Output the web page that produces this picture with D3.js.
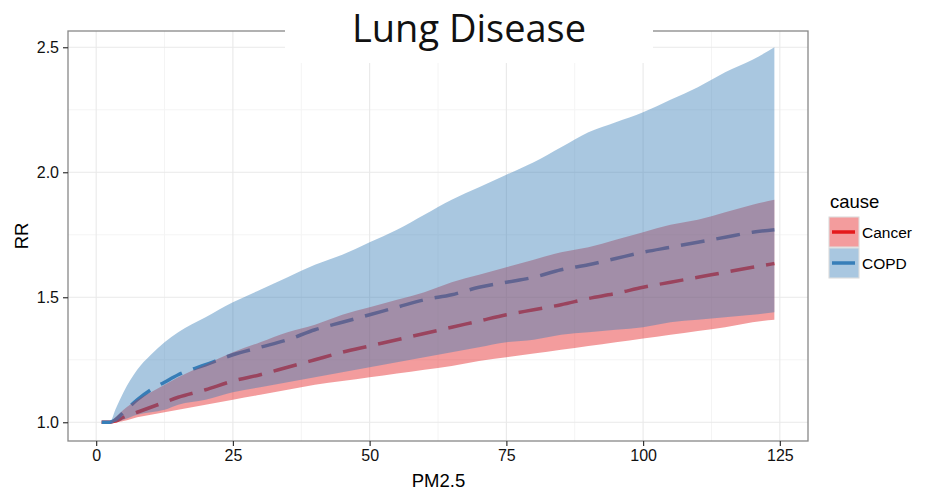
<!DOCTYPE html>
<html>
<head>
<meta charset="utf-8">
<script src="https://cdn.jsdelivr.net/npm/d3@7"></script>
<style>
  body { margin: 0; background: #fff; }
  text { font-family: "Liberation Sans", Arial, sans-serif; }
</style>
</head>
<body>
<script>
// PM2.5 values where the curves were read
var pm = [1, 2.5, 3.5, 5, 7.5, 10, 12.5, 15, 20, 25, 30, 35, 40, 45, 50, 55, 60, 65, 70, 75, 80, 85, 90, 95, 100, 105, 110, 115, 120, 124];

var causes = ['Cancer', 'COPD'];
var causeColors = ['#e41a1c', '#377eb8'];

// Cancer
var cancerRR    = [1.0, 1.0, 1.005, 1.02, 1.04, 1.06, 1.08, 1.10, 1.13, 1.165, 1.19, 1.22, 1.25, 1.28, 1.305, 1.33, 1.355, 1.38, 1.405, 1.43, 1.45, 1.47, 1.495, 1.515, 1.54, 1.56, 1.58, 1.60, 1.62, 1.635];
var cancerLower = [1.0, 1.0, 1.0, 1.005, 1.02, 1.03, 1.04, 1.05, 1.07, 1.09, 1.11, 1.13, 1.15, 1.165, 1.18, 1.195, 1.21, 1.225, 1.245, 1.26, 1.275, 1.29, 1.305, 1.32, 1.335, 1.35, 1.365, 1.38, 1.40, 1.41];
var cancerUpper = [1.0, 1.0, 1.02, 1.05, 1.09, 1.12, 1.15, 1.18, 1.23, 1.28, 1.32, 1.36, 1.39, 1.43, 1.46, 1.49, 1.52, 1.56, 1.59, 1.62, 1.65, 1.68, 1.70, 1.73, 1.76, 1.79, 1.81, 1.84, 1.87, 1.89];

// COPD
var copdRR    = [1.0, 1.0, 1.01, 1.04, 1.09, 1.13, 1.16, 1.19, 1.23, 1.27, 1.30, 1.33, 1.37, 1.40, 1.43, 1.46, 1.49, 1.51, 1.54, 1.56, 1.58, 1.61, 1.63, 1.655, 1.68, 1.70, 1.72, 1.74, 1.76, 1.77];
var copdLower = [1.0, 1.0, 1.0, 1.01, 1.03, 1.04, 1.05, 1.07, 1.09, 1.12, 1.14, 1.16, 1.18, 1.20, 1.22, 1.24, 1.26, 1.28, 1.30, 1.32, 1.33, 1.35, 1.36, 1.37, 1.38, 1.40, 1.41, 1.42, 1.43, 1.44];
var copdUpper = [1.0, 1.0, 1.05, 1.12, 1.21, 1.27, 1.32, 1.36, 1.42, 1.48, 1.53, 1.58, 1.63, 1.67, 1.72, 1.77, 1.83, 1.89, 1.94, 1.99, 2.04, 2.10, 2.16, 2.20, 2.24, 2.29, 2.34, 2.40, 2.45, 2.50];

var xTicks = [0, 25, 50, 75, 100, 125];
var yTicks = [1.0, 1.5, 2.0, 2.5];
var xMinor = [12.5, 37.5, 62.5, 87.5, 112.5];
var yMinor = [1.25, 1.75, 2.25];

var W = 932, H = 498;
var pLeft = 68, pRight = 808, pTop = 31, pBottom = 441;

var svg = d3.select('body').append('svg')
    .attr('width', W)
    .attr('height', H);

var ext = d3.extent(pm);
var pad = (ext[1] - ext[0]) * 0.05;
var x = d3.scaleLinear().domain([ext[0] - pad, ext[1] + pad]).range([pLeft, pRight]);
var y = d3.scaleLinear().domain([0.925, 2.565]).range([pBottom, pTop]);

var series = [
    {name: causes[0], color: causeColors[0], rr: cancerRR, lo: cancerLower, hi: cancerUpper},
    {name: causes[1], color: causeColors[1], rr: copdRR, lo: copdLower, hi: copdUpper}
];

// grid
var grid = svg.append('g');
grid.selectAll('.xminor').data(xMinor).enter().append('line')
    .attr('x1', d => x(d)).attr('x2', d => x(d))
    .attr('y1', pTop).attr('y2', pBottom)
    .attr('stroke', '#f4f4f4').attr('stroke-width', 1);
grid.selectAll('.yminor').data(yMinor).enter().append('line')
    .attr('x1', pLeft).attr('x2', pRight)
    .attr('y1', d => y(d)).attr('y2', d => y(d))
    .attr('stroke', '#f4f4f4').attr('stroke-width', 1);
grid.selectAll('.xmajor').data(xTicks).enter().append('line')
    .attr('x1', d => x(d)).attr('x2', d => x(d))
    .attr('y1', pTop).attr('y2', pBottom)
    .attr('stroke', '#e9e9e9').attr('stroke-width', 1.1);
grid.selectAll('.ymajor').data(yTicks).enter().append('line')
    .attr('x1', pLeft).attr('x2', pRight)
    .attr('y1', d => y(d)).attr('y2', d => y(d))
    .attr('stroke', '#e9e9e9').attr('stroke-width', 1.1);

var line = d3.line()
    .curve(d3.curveMonotoneX)
    .x(d => x(d[0]))
    .y(d => y(d[1]));

var area = d3.area()
    .curve(d3.curveMonotoneX)
    .x(d => x(d[0]))
    .y0(d => y(d[1]))
    .y1(d => y(d[2]));

// lines sit under the ribbons
series.forEach(function(s) {
    svg.append('path')
        .datum(pm.map((p, i) => [p, s.rr[i]]))
        .attr('d', line)
        .attr('fill', 'none')
        .attr('stroke', s.color)
        .attr('stroke-width', 3.5)
        .attr('stroke-dasharray', '24,12');
});

series.forEach(function(s) {
    svg.append('path')
        .datum(pm.map((p, i) => [p, s.lo[i], s.hi[i]]))
        .attr('d', area)
        .attr('fill', s.color)
        .attr('fill-opacity', 0.43);
});

// panel border
svg.append('rect')
    .attr('x', pLeft).attr('y', pTop)
    .attr('width', pRight - pLeft).attr('height', pBottom - pTop)
    .attr('fill', 'none')
    .attr('stroke', '#888')
    .attr('stroke-width', 1.3);

// axes
var xAxis = svg.append('g')
    .attr('transform', 'translate(0,' + pBottom + ')')
    .call(d3.axisBottom(x).tickValues(xTicks).tickFormat(d3.format('d')).tickSize(5).tickPadding(4));
var yAxis = svg.append('g')
    .attr('transform', 'translate(' + pLeft + ',0)')
    .call(d3.axisLeft(y).tickValues(yTicks).tickFormat(d3.format('.1f')).tickSize(5).tickPadding(4));

[xAxis, yAxis].forEach(function(a) {
    a.select('.domain').remove();
    a.selectAll('.tick line').attr('stroke', '#333').attr('stroke-width', 1.2);
    a.selectAll('.tick text')
        .attr('fill', '#111')
        .style('font-size', '16px')
        .style('font-family', '"Liberation Sans", Arial, sans-serif');
});

svg.append('text')
    .attr('x', 438.5)
    .attr('y', 487)
    .attr('text-anchor', 'middle')
    .style('font-size', '18.5px')
    .text('PM2.5');

svg.append('text')
    .attr('transform', 'translate(28,236) rotate(-90)')
    .attr('text-anchor', 'middle')
    .style('font-size', '18.5px')
    .text('RR');

// title sits in a white box over the top border
svg.append('rect')
    .attr('x', 285).attr('y', 0)
    .attr('width', 368).attr('height', 63)
    .attr('fill', '#fff');
svg.append('text')
    .attr('x', 469)
    .attr('y', 42)
    .attr('text-anchor', 'middle')
    .style('font-family', '"Open Sans", sans-serif')
    .style('font-size', '38px')
    .attr('fill', '#111')
    .text('Lung Disease');

// legend
var legend = svg.append('g').attr('transform', 'translate(829,0)');
legend.append('text')
    .attr('x', 1).attr('y', 208)
    .style('font-size', '18.5px')
    .text('cause');

var keys = legend.selectAll('.key')
    .data(series)
    .enter().append('g')
    .attr('transform', (d, i) => 'translate(0,' + (217 + i * 31) + ')');
keys.append('rect')
    .attr('width', 30).attr('height', 30)
    .attr('fill', '#fff')
    .attr('stroke', '#d8d8d8').attr('stroke-width', 1);
keys.append('rect')
    .attr('x', 0.5).attr('y', 0.5)
    .attr('width', 29).attr('height', 29)
    .attr('fill', d => d.color)
    .attr('fill-opacity', 0.43);
keys.append('line')
    .attr('x1', 3).attr('x2', 26)
    .attr('y1', 15).attr('y2', 15)
    .attr('stroke', d => d.color)
    .attr('stroke-width', 3.5);
keys.append('text')
    .attr('x', 33).attr('y', 20.5)
    .style('font-size', '15.5px')
    .text(d => d.name);
</script>
</body>
</html>
